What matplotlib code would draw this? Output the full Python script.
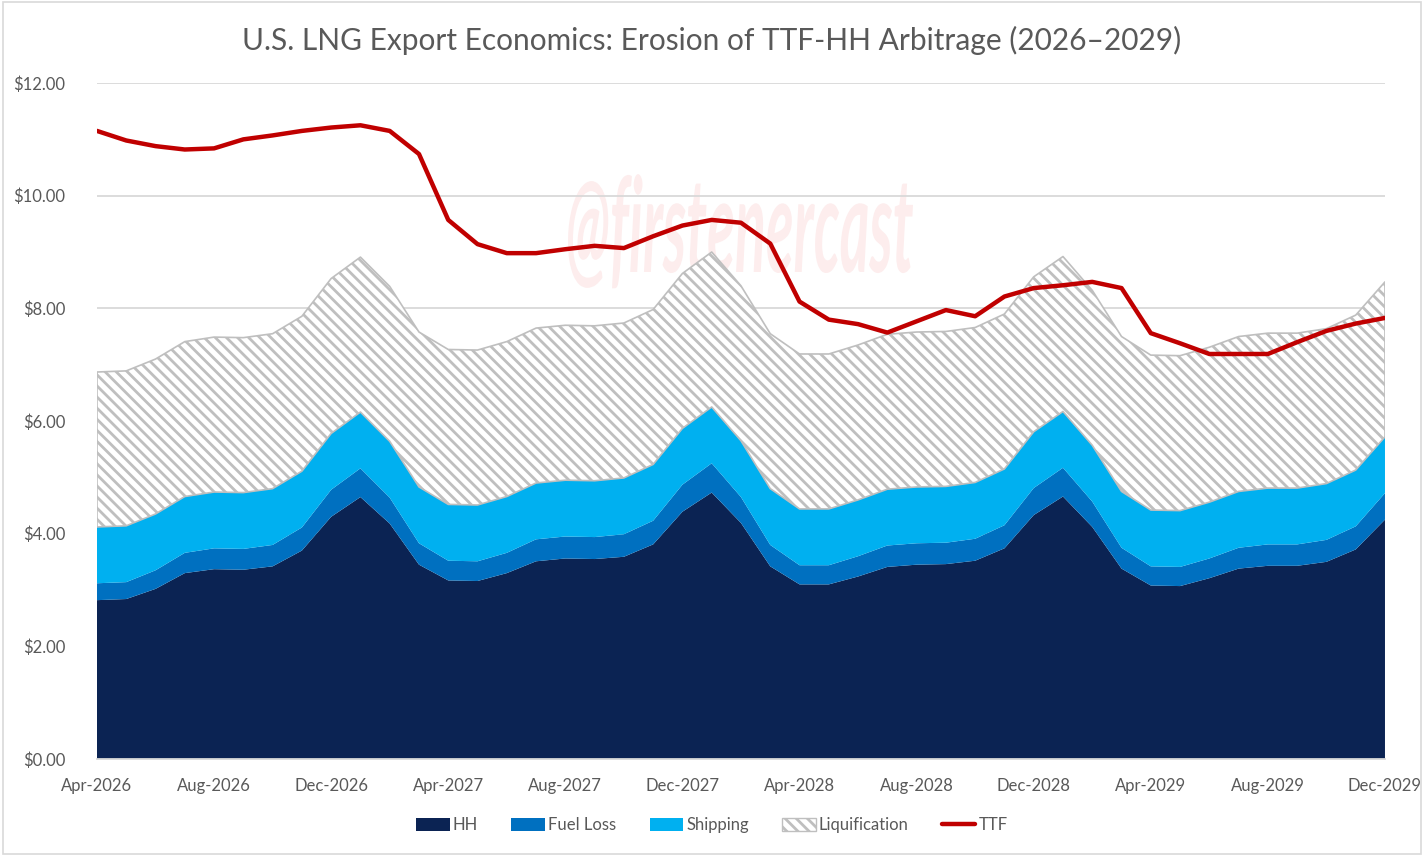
import matplotlib.pyplot as plt
from matplotlib.patches import Patch, Rectangle, PathPatch
from matplotlib.lines import Line2D
from matplotlib.textpath import TextPath
from matplotlib.font_manager import FontProperties
from matplotlib.transforms import Affine2D, IdentityTransform

plt.rcParams['font.family'] = ['Lato', 'DejaVu Sans']
plt.rcParams['hatch.linewidth'] = 2.0

# monthly, Apr-2026 .. Dec-2029 (45 months)
months = list(range(45))
tick_labels = ["Apr-2026", "Aug-2026", "Dec-2026", "Apr-2027", "Aug-2027", "Dec-2027",
               "Apr-2028", "Aug-2028", "Dec-2028", "Apr-2029", "Aug-2029", "Dec-2029"]

hh = [2.82, 2.84, 3.02, 3.30, 3.37, 3.36, 3.42, 3.70, 4.30, 4.65, 4.18, 3.45,
      3.17, 3.16, 3.30, 3.51, 3.56, 3.55, 3.59, 3.81, 4.39, 4.73, 4.19, 3.42,
      3.10, 3.10, 3.24, 3.41, 3.45, 3.46, 3.52, 3.74, 4.33, 4.66, 4.12, 3.38,
      3.08, 3.07, 3.21, 3.38, 3.43, 3.43, 3.50, 3.72, 4.25]

fuel_loss = [0.30, 0.30, 0.33, 0.36, 0.37, 0.37, 0.38, 0.41, 0.48, 0.51, 0.46, 0.38,
             0.35, 0.35, 0.36, 0.39, 0.39, 0.39, 0.40, 0.42, 0.48, 0.52, 0.46, 0.38,
             0.34, 0.34, 0.36, 0.38, 0.38, 0.38, 0.39, 0.41, 0.48, 0.51, 0.45, 0.37,
             0.34, 0.34, 0.35, 0.37, 0.38, 0.38, 0.39, 0.41, 0.47]

shipping = [1.00, 1.00, 1.00, 1.00, 1.00, 1.00, 1.00, 1.00, 1.00, 1.00, 1.00, 1.00,
            1.00, 1.00, 1.00, 1.00, 1.00, 1.00, 1.00, 1.00, 1.00, 1.00, 1.00, 1.00,
            1.00, 1.00, 1.00, 1.00, 1.00, 1.00, 1.00, 1.00, 1.00, 1.00, 1.00, 1.00,
            1.00, 1.00, 1.00, 1.00, 1.00, 1.00, 1.00, 1.00, 1.00]

liquification = [2.75, 2.75, 2.75, 2.75, 2.75, 2.75, 2.75, 2.75, 2.75, 2.75, 2.75, 2.75,
                 2.75, 2.75, 2.75, 2.75, 2.75, 2.75, 2.75, 2.75, 2.75, 2.75, 2.75, 2.75,
                 2.75, 2.75, 2.75, 2.75, 2.75, 2.75, 2.75, 2.75, 2.75, 2.75, 2.75, 2.75,
                 2.75, 2.75, 2.75, 2.75, 2.75, 2.75, 2.75, 2.75, 2.75]

ttf = [11.15, 10.98, 10.88, 10.82, 10.84, 11.00, 11.07, 11.15, 11.21, 11.25, 11.15, 10.74,
       9.57, 9.14, 8.98, 8.98, 9.05, 9.11, 9.07, 9.28, 9.47, 9.57, 9.52, 9.15,
       8.12, 7.80, 7.72, 7.57, 7.77, 7.97, 7.86, 8.21, 8.36, 8.41, 8.47, 8.36,
       7.56, 7.38, 7.19, 7.19, 7.19, 7.40, 7.60, 7.73, 7.83]

c_hh = "#0b2353"
c_fuel = "#0070c0"
c_ship = "#00b0f0"
c_ttf = "#c00000"
c_text = "#595959"
c_grid = "#d9d9d9"
c_hatch = "#bfbfbf"
hatch = "\\\\\\"

fig = plt.figure(figsize=(14.24, 8.56), dpi=100)
ax = fig.add_axes([0.0681, 0.1133, 0.9045, 0.7897])

# watermark: condensed text, stretched to fit its box (pixel coords)
tp = TextPath((0, 0), "@firstenercast", size=1,
              prop=FontProperties(family="Lato", weight="bold", style="italic"))
ext = tp.get_extents()
sx = 345 / ext.width
sy = 132
wm_tr = Affine2D().translate(-ext.x0, 0).scale(sx, sy).translate(568, 856 - 272)
ax.add_artist(PathPatch(tp, transform=wm_tr + IdentityTransform(),
                        facecolor="#fdeded", edgecolor="none", zorder=0.5))

polys = ax.stackplot(months, hh, fuel_loss, shipping, liquification,
                     colors=[c_hh, c_fuel, c_ship, "white"], zorder=2)
polys[3].set_hatch(hatch)
polys[3].set_edgecolor(c_hatch)
polys[3].set_linewidth(1.2)
for p in polys[:3]:
    p.set_linewidth(0)

ax.plot(months, ttf, color=c_ttf, lw=3.2, zorder=4, solid_capstyle="round")

ax.set_xlim(0, 44)
ax.set_ylim(0, 12)
ax.set_yticks(range(0, 13, 2))
ax.set_yticklabels([f"${v:.2f}" for v in range(0, 13, 2)])
ax.set_xticks(range(0, 45, 4))
ax.set_xticklabels(tick_labels)
ax.tick_params(axis="both", length=0, labelsize=12, labelcolor=c_text)
ax.tick_params(axis="x", pad=14)
ax.tick_params(axis="y", pad=23)
ax.grid(axis="y", color=c_grid, lw=1.3, zorder=1)
ax.set_axisbelow(True)
for s in ["top", "right", "left"]:
    ax.spines[s].set_visible(False)
ax.spines["bottom"].set_color(c_grid)
ax.spines["bottom"].set_linewidth(1.3)

fig.text(0.5, 0.953, "U.S. LNG Export Economics: Erosion of TTF-HH Arbitrage (2026\u20132029)",
         ha="center", va="center", fontsize=21.5, color=c_text)

handles = [Patch(facecolor=c_hh), Patch(facecolor=c_fuel), Patch(facecolor=c_ship),
           Patch(facecolor="white", edgecolor=c_hatch, hatch=hatch),
           Line2D([], [], color=c_ttf, lw=3.2, solid_capstyle="round")]
leg = fig.legend(handles, ["HH", "Fuel Loss", "Shipping", "Liquification", "TTF"],
                 loc="center", bbox_to_anchor=(0.5, 0.036), ncol=5, frameon=False,
                 fontsize=12, handlelength=2.0, handleheight=0.8, handletextpad=0.2,
                 columnspacing=2.0)
for t in leg.get_texts():
    t.set_color(c_text)

fig.patches.append(Rectangle((0.002, 0.002), 0.996, 0.996, transform=fig.transFigure,
                             fill=False, edgecolor=c_grid, lw=1.2))

fig.savefig("out.png", dpi=100)
